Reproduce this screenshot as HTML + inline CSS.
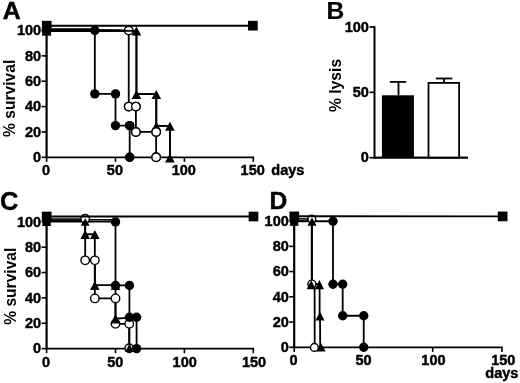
<!DOCTYPE html>
<html lang="en"><head><meta charset="utf-8"><title>Figure</title>
<style>
html,body{margin:0;padding:0;background:#fff;}
svg{display:block;filter:blur(0.35px);}
svg text{font-family:'Liberation Sans', Arial, sans-serif;font-weight:bold;fill:#000;}
</style></head>
<body>
<svg width="520" height="383" viewBox="0 0 520 383">
<rect width="520" height="383" fill="#fff"/>
<line x1="46.60" y1="158.20" x2="46.60" y2="29.70" stroke="#000" stroke-width="2.2"/>
<line x1="45.70" y1="157.30" x2="254.10" y2="157.30" stroke="#000" stroke-width="1.8"/>
<line x1="41.60" y1="157.30" x2="46.60" y2="157.30" stroke="#000" stroke-width="1.6"/>
<text x="41.20" y="162.00" font-size="14.5" text-anchor="end" stroke="#000" stroke-width="0.45">0</text>
<line x1="41.60" y1="131.94" x2="46.60" y2="131.94" stroke="#000" stroke-width="1.6"/>
<text x="41.20" y="136.64" font-size="14.5" text-anchor="end" stroke="#000" stroke-width="0.45">20</text>
<line x1="41.60" y1="106.58" x2="46.60" y2="106.58" stroke="#000" stroke-width="1.6"/>
<text x="41.20" y="111.28" font-size="14.5" text-anchor="end" stroke="#000" stroke-width="0.45">40</text>
<line x1="41.60" y1="81.22" x2="46.60" y2="81.22" stroke="#000" stroke-width="1.6"/>
<text x="41.20" y="85.92" font-size="14.5" text-anchor="end" stroke="#000" stroke-width="0.45">60</text>
<line x1="41.60" y1="55.86" x2="46.60" y2="55.86" stroke="#000" stroke-width="1.6"/>
<text x="41.20" y="60.56" font-size="14.5" text-anchor="end" stroke="#000" stroke-width="0.45">80</text>
<line x1="41.60" y1="30.50" x2="46.60" y2="30.50" stroke="#000" stroke-width="1.6"/>
<text x="41.20" y="35.20" font-size="14.5" text-anchor="end" stroke="#000" stroke-width="0.45">100</text>
<line x1="46.60" y1="157.30" x2="46.60" y2="161.90" stroke="#000" stroke-width="1.6"/>
<text x="46.00" y="175.30" font-size="14.5" text-anchor="middle" stroke="#000" stroke-width="0.45">0</text>
<line x1="115.50" y1="157.30" x2="115.50" y2="161.90" stroke="#000" stroke-width="1.6"/>
<text x="114.90" y="175.30" font-size="14.5" text-anchor="middle" stroke="#000" stroke-width="0.45">50</text>
<line x1="184.40" y1="157.30" x2="184.40" y2="161.90" stroke="#000" stroke-width="1.6"/>
<text x="183.80" y="175.30" font-size="14.5" text-anchor="middle" stroke="#000" stroke-width="0.45">100</text>
<line x1="253.30" y1="157.30" x2="253.30" y2="161.90" stroke="#000" stroke-width="1.6"/>
<text x="252.70" y="175.30" font-size="14.5" text-anchor="middle" stroke="#000" stroke-width="0.45">150</text>
<text transform="translate(14.70,98.30) rotate(-90)" font-size="15.6" text-anchor="middle">% survival</text>
<text x="271.30" y="175.40" font-size="14.5" text-anchor="start" stroke="#000" stroke-width="0.45">days</text>
<text x="2.70" y="18.60" font-size="24.8" text-anchor="start" stroke="#000" stroke-width="0.5">A</text>
<polyline points="46.60,30.50 128.73,30.50 128.73,106.58 135.89,106.58 135.89,131.94 156.15,131.94 156.15,157.30" fill="none" stroke="#000" stroke-width="1.8" stroke-linejoin="miter"/>
<polyline points="46.60,30.50 94.83,30.50 94.83,93.90 115.50,93.90 115.50,125.60 129.69,125.60 129.69,157.30" fill="none" stroke="#000" stroke-width="1.8" stroke-linejoin="miter"/>
<polyline points="46.60,30.80 136.45,30.80 136.45,94.20 156.29,94.20 156.29,125.90 169.93,125.90 169.93,157.60" fill="none" stroke="#000" stroke-width="1.8" stroke-linejoin="miter"/>
<line x1="46.60" y1="29.20" x2="94.83" y2="29.20" stroke="#000" stroke-width="1.8"/>
<line x1="46.60" y1="30.80" x2="94.83" y2="31.10" stroke="#000" stroke-width="1.8"/>
<line x1="94.83" y1="30.00" x2="120.73" y2="30.30" stroke="#000" stroke-width="1.8"/>
<circle cx="46.60" cy="30.50" r="4.25" fill="#fff" stroke="#000" stroke-width="1.4"/>
<circle cx="128.73" cy="30.50" r="4.25" fill="#fff" stroke="#000" stroke-width="1.4"/>
<circle cx="128.73" cy="106.58" r="4.25" fill="#fff" stroke="#000" stroke-width="1.4"/>
<circle cx="135.89" cy="106.58" r="4.25" fill="#fff" stroke="#000" stroke-width="1.4"/>
<circle cx="135.89" cy="131.94" r="4.25" fill="#fff" stroke="#000" stroke-width="1.4"/>
<circle cx="156.15" cy="131.94" r="4.25" fill="#fff" stroke="#000" stroke-width="1.4"/>
<circle cx="156.15" cy="157.30" r="4.25" fill="#fff" stroke="#000" stroke-width="1.4"/>
<circle cx="46.60" cy="30.50" r="4.7" fill="#000"/>
<circle cx="94.83" cy="30.50" r="4.7" fill="#000"/>
<circle cx="94.83" cy="93.90" r="4.7" fill="#000"/>
<circle cx="115.50" cy="93.90" r="4.7" fill="#000"/>
<circle cx="115.50" cy="125.60" r="4.7" fill="#000"/>
<circle cx="129.69" cy="125.60" r="4.7" fill="#000"/>
<circle cx="129.69" cy="157.30" r="4.7" fill="#000"/>
<polyline points="46.60,30.80 136.45,30.80 136.45,94.20 156.29,94.20 156.29,125.90 169.93,125.90 169.93,157.60" fill="none" stroke="#000" stroke-width="1.8" stroke-linejoin="miter"/>
<polygon points="46.60,26.60 51.40,35.60 41.80,35.60" fill="#000"/>
<polygon points="136.45,26.60 141.25,35.60 131.65,35.60" fill="#000"/>
<polygon points="136.45,90.00 141.25,99.00 131.65,99.00" fill="#000"/>
<polygon points="156.29,90.00 161.09,99.00 151.49,99.00" fill="#000"/>
<polygon points="156.29,121.70 161.09,130.70 151.49,130.70" fill="#000"/>
<polygon points="169.93,121.70 174.73,130.70 165.13,130.70" fill="#000"/>
<polygon points="169.93,153.40 174.73,162.40 165.13,162.40" fill="#000"/>
<circle cx="128.73" cy="106.58" r="4.25" fill="#fff" stroke="#000" stroke-width="1.4"/>
<circle cx="135.89" cy="106.58" r="4.25" fill="#fff" stroke="#000" stroke-width="1.4"/>
<circle cx="135.89" cy="131.94" r="4.25" fill="#fff" stroke="#000" stroke-width="1.4"/>
<circle cx="156.15" cy="131.94" r="4.25" fill="#fff" stroke="#000" stroke-width="1.4"/>
<circle cx="156.15" cy="157.30" r="4.25" fill="#fff" stroke="#000" stroke-width="1.4"/>
<circle cx="129.69" cy="157.30" r="4.7" fill="#000"/>
<circle cx="129.69" cy="125.60" r="4.7" fill="#000"/>
<circle cx="46.60" cy="31.20" r="4.4" fill="#000"/>
<polygon points="46.60,26.30 51.40,35.30 41.80,35.30" fill="#000"/>
<line x1="46.60" y1="25.70" x2="253.30" y2="25.70" stroke="#000" stroke-width="1.9"/>
<rect x="41.85" y="20.85" width="9.7" height="9.7" fill="#000"/>
<rect x="248.05" y="20.85" width="9.7" height="9.7" fill="#000"/>
<line x1="46.60" y1="349.50" x2="46.60" y2="221.00" stroke="#000" stroke-width="2.2"/>
<line x1="45.70" y1="348.60" x2="254.10" y2="348.60" stroke="#000" stroke-width="1.8"/>
<line x1="41.60" y1="348.60" x2="46.60" y2="348.60" stroke="#000" stroke-width="1.6"/>
<text x="41.20" y="353.30" font-size="14.5" text-anchor="end" stroke="#000" stroke-width="0.45">0</text>
<line x1="41.60" y1="323.24" x2="46.60" y2="323.24" stroke="#000" stroke-width="1.6"/>
<text x="41.20" y="327.94" font-size="14.5" text-anchor="end" stroke="#000" stroke-width="0.45">20</text>
<line x1="41.60" y1="297.88" x2="46.60" y2="297.88" stroke="#000" stroke-width="1.6"/>
<text x="41.20" y="302.58" font-size="14.5" text-anchor="end" stroke="#000" stroke-width="0.45">40</text>
<line x1="41.60" y1="272.52" x2="46.60" y2="272.52" stroke="#000" stroke-width="1.6"/>
<text x="41.20" y="277.22" font-size="14.5" text-anchor="end" stroke="#000" stroke-width="0.45">60</text>
<line x1="41.60" y1="247.16" x2="46.60" y2="247.16" stroke="#000" stroke-width="1.6"/>
<text x="41.20" y="251.86" font-size="14.5" text-anchor="end" stroke="#000" stroke-width="0.45">80</text>
<line x1="41.60" y1="221.80" x2="46.60" y2="221.80" stroke="#000" stroke-width="1.6"/>
<text x="41.20" y="226.50" font-size="14.5" text-anchor="end" stroke="#000" stroke-width="0.45">100</text>
<line x1="46.60" y1="348.60" x2="46.60" y2="353.20" stroke="#000" stroke-width="1.6"/>
<text x="46.00" y="366.50" font-size="14.5" text-anchor="middle" stroke="#000" stroke-width="0.45">0</text>
<line x1="115.50" y1="348.60" x2="115.50" y2="353.20" stroke="#000" stroke-width="1.6"/>
<text x="115.33" y="366.50" font-size="14.5" text-anchor="middle" stroke="#000" stroke-width="0.45">50</text>
<line x1="184.40" y1="348.60" x2="184.40" y2="353.20" stroke="#000" stroke-width="1.6"/>
<text x="184.67" y="366.50" font-size="14.5" text-anchor="middle" stroke="#000" stroke-width="0.45">100</text>
<line x1="253.30" y1="348.60" x2="253.30" y2="353.20" stroke="#000" stroke-width="1.6"/>
<text x="254.00" y="366.50" font-size="14.5" text-anchor="middle" stroke="#000" stroke-width="0.45">150</text>
<text transform="translate(15.60,286.20) rotate(-90)" font-size="15.6" text-anchor="middle">% survival</text>
<text x="0.00" y="210.20" font-size="25.4" text-anchor="start" stroke="#000" stroke-width="0.4">C</text>
<line x1="46.60" y1="219.00" x2="85.18" y2="219.00" stroke="#000" stroke-width="1.7"/>
<line x1="46.60" y1="220.40" x2="85.18" y2="220.40" stroke="#000" stroke-width="1.7"/>
<line x1="46.60" y1="221.70" x2="115.50" y2="221.70" stroke="#000" stroke-width="1.7"/>
<line x1="85.18" y1="219.80" x2="115.50" y2="219.80" stroke="#000" stroke-width="1.5"/>
<polyline points="85.18,220.00 85.18,260.35 94.83,260.35 94.83,298.39 115.50,298.39 115.50,323.87 129.28,323.87 129.28,348.60" fill="none" stroke="#000" stroke-width="1.8" stroke-linejoin="miter"/>
<polyline points="85.18,221.60 85.18,234.23 94.83,234.23 94.83,285.20 115.50,285.20 115.50,318.68 129.28,317.66 129.28,348.60" fill="none" stroke="#000" stroke-width="1.8" stroke-linejoin="miter"/>
<polyline points="115.50,221.90 115.50,285.45 129.42,285.45 129.42,317.28 136.58,317.28 136.58,348.60" fill="none" stroke="#000" stroke-width="1.8" stroke-linejoin="miter"/>
<circle cx="85.18" cy="218.80" r="4.25" fill="#fff" stroke="#000" stroke-width="1.4"/>
<polygon points="85.18,218.20 89.68,225.80 80.68,225.80" fill="#000"/>
<polygon points="85.18,229.93 89.98,238.93 80.38,238.93" fill="#000"/>
<polygon points="94.83,229.93 99.63,238.93 90.03,238.93" fill="#000"/>
<polygon points="94.83,280.90 99.63,289.90 90.03,289.90" fill="#000"/>
<polygon points="115.50,280.90 120.30,289.90 110.70,289.90" fill="#000"/>
<polygon points="115.50,314.38 120.30,323.38 110.70,323.38" fill="#000"/>
<circle cx="85.18" cy="260.35" r="4.25" fill="#fff" stroke="#000" stroke-width="1.4"/>
<circle cx="94.83" cy="260.35" r="4.25" fill="#fff" stroke="#000" stroke-width="1.4"/>
<circle cx="94.83" cy="298.39" r="4.25" fill="#fff" stroke="#000" stroke-width="1.4"/>
<circle cx="115.50" cy="298.39" r="4.25" fill="#fff" stroke="#000" stroke-width="1.4"/>
<circle cx="115.50" cy="323.87" r="4.25" fill="#fff" stroke="#000" stroke-width="1.4"/>
<circle cx="129.28" cy="323.87" r="4.25" fill="#fff" stroke="#000" stroke-width="1.4"/>
<circle cx="129.28" cy="348.30" r="4.25" fill="#fff" stroke="#000" stroke-width="1.4"/>
<polygon points="115.50,314.38 120.30,323.38 110.70,323.38" fill="#000"/>
<polygon points="129.48,343.60 133.78,352.00 125.18,352.00" fill="#000"/>
<circle cx="115.50" cy="221.90" r="4.7" fill="#000"/>
<circle cx="115.50" cy="285.45" r="4.7" fill="#000"/>
<circle cx="129.42" cy="285.45" r="4.7" fill="#000"/>
<circle cx="129.42" cy="317.28" r="4.7" fill="#000"/>
<circle cx="136.58" cy="317.28" r="4.7" fill="#000"/>
<circle cx="136.58" cy="348.60" r="4.7" fill="#000"/>
<circle cx="46.60" cy="221.80" r="4.4" fill="#000"/>
<polygon points="46.60,217.30 51.40,225.90 41.80,225.90" fill="#000"/>
<line x1="46.60" y1="216.50" x2="253.30" y2="216.50" stroke="#000" stroke-width="1.9"/>
<rect x="41.85" y="211.65" width="9.7" height="9.7" fill="#000"/>
<rect x="248.65" y="211.65" width="9.7" height="9.7" fill="#000"/>
<line x1="294.20" y1="348.20" x2="294.20" y2="220.30" stroke="#000" stroke-width="2.2"/>
<line x1="293.30" y1="347.30" x2="502.75" y2="347.30" stroke="#000" stroke-width="1.8"/>
<line x1="289.20" y1="347.30" x2="294.20" y2="347.30" stroke="#000" stroke-width="1.6"/>
<text x="288.80" y="352.00" font-size="14.5" text-anchor="end" stroke="#000" stroke-width="0.45">0</text>
<line x1="289.20" y1="322.06" x2="294.20" y2="322.06" stroke="#000" stroke-width="1.6"/>
<text x="288.80" y="326.76" font-size="14.5" text-anchor="end" stroke="#000" stroke-width="0.45">20</text>
<line x1="289.20" y1="296.82" x2="294.20" y2="296.82" stroke="#000" stroke-width="1.6"/>
<text x="288.80" y="301.52" font-size="14.5" text-anchor="end" stroke="#000" stroke-width="0.45">40</text>
<line x1="289.20" y1="271.58" x2="294.20" y2="271.58" stroke="#000" stroke-width="1.6"/>
<text x="288.80" y="276.28" font-size="14.5" text-anchor="end" stroke="#000" stroke-width="0.45">60</text>
<line x1="289.20" y1="246.34" x2="294.20" y2="246.34" stroke="#000" stroke-width="1.6"/>
<text x="288.80" y="251.04" font-size="14.5" text-anchor="end" stroke="#000" stroke-width="0.45">80</text>
<line x1="289.20" y1="221.10" x2="294.20" y2="221.10" stroke="#000" stroke-width="1.6"/>
<text x="288.80" y="225.80" font-size="14.5" text-anchor="end" stroke="#000" stroke-width="0.45">100</text>
<line x1="294.20" y1="347.30" x2="294.20" y2="351.90" stroke="#000" stroke-width="1.6"/>
<text x="293.60" y="365.20" font-size="14.5" text-anchor="middle" stroke="#000" stroke-width="0.45">0</text>
<line x1="363.45" y1="347.30" x2="363.45" y2="351.90" stroke="#000" stroke-width="1.6"/>
<text x="363.52" y="365.20" font-size="14.5" text-anchor="middle" stroke="#000" stroke-width="0.45">50</text>
<line x1="432.70" y1="347.30" x2="432.70" y2="351.90" stroke="#000" stroke-width="1.6"/>
<text x="433.43" y="365.20" font-size="14.5" text-anchor="middle" stroke="#000" stroke-width="0.45">100</text>
<line x1="501.95" y1="347.30" x2="501.95" y2="351.90" stroke="#000" stroke-width="1.6"/>
<text x="503.35" y="365.20" font-size="14.5" text-anchor="middle" stroke="#000" stroke-width="0.45">150</text>
<text x="485.30" y="377.60" font-size="14.5" text-anchor="start" stroke="#000" stroke-width="0.45">days</text>
<text x="269.60" y="209.20" font-size="24.6" text-anchor="start" stroke="#000" stroke-width="0.4">D</text>
<line x1="294.20" y1="218.90" x2="311.65" y2="218.90" stroke="#000" stroke-width="1.5"/>
<line x1="294.20" y1="221.30" x2="332.98" y2="221.30" stroke="#000" stroke-width="1.9"/>
<line x1="294.20" y1="221.00" x2="311.65" y2="221.00" stroke="#000" stroke-width="1.6"/>
<polyline points="311.70,221.20 311.70,284.20 319.60,284.20 319.60,315.75 320.00,315.75 320.20,347.30" fill="none" stroke="#000" stroke-width="1.8" stroke-linejoin="miter"/>
<polyline points="312.00,219.50 312.00,284.20 314.60,284.20 314.70,347.30" fill="none" stroke="#000" stroke-width="1.8" stroke-linejoin="miter"/>
<polyline points="332.98,221.30 332.98,284.20 342.68,284.20 342.68,315.75 363.73,315.75 363.73,347.30" fill="none" stroke="#000" stroke-width="1.8" stroke-linejoin="miter"/>
<circle cx="311.80" cy="219.00" r="3.9" fill="#fff" stroke="#000" stroke-width="1.4"/>
<polygon points="312.00,217.50 316.60,225.70 307.40,225.70" fill="#000"/>
<circle cx="311.90" cy="284.10" r="4.0" fill="#fff" stroke="#000" stroke-width="1.4"/>
<polygon points="311.20,280.20 315.80,289.20 306.60,289.20" fill="#000"/>
<polygon points="319.40,280.10 324.00,289.30 314.80,289.30" fill="#000"/>
<polygon points="320.00,311.80 324.60,320.60 315.40,320.60" fill="#000"/>
<polygon points="321.00,343.10 325.60,351.50 316.40,351.50" fill="#000"/>
<circle cx="314.40" cy="347.40" r="3.9" fill="#fff" stroke="#000" stroke-width="1.4"/>
<circle cx="332.98" cy="221.30" r="4.7" fill="#000"/>
<circle cx="332.98" cy="284.20" r="4.7" fill="#000"/>
<circle cx="342.68" cy="284.20" r="4.7" fill="#000"/>
<circle cx="342.68" cy="315.75" r="4.7" fill="#000"/>
<circle cx="363.73" cy="315.75" r="4.7" fill="#000"/>
<circle cx="363.73" cy="347.30" r="4.7" fill="#000"/>
<circle cx="294.20" cy="221.60" r="4.4" fill="#000"/>
<polygon points="294.20,217.10 299.00,225.70 289.40,225.70" fill="#000"/>
<line x1="294.20" y1="216.20" x2="501.95" y2="216.40" stroke="#000" stroke-width="1.9"/>
<rect x="289.45" y="211.55" width="9.7" height="9.7" fill="#000"/>
<rect x="497.80" y="211.55" width="9.7" height="9.7" fill="#000"/>
<line x1="374.50" y1="158.60" x2="374.50" y2="26.15" stroke="#000" stroke-width="2.0"/>
<line x1="373.60" y1="157.70" x2="468.00" y2="157.70" stroke="#000" stroke-width="1.8"/>
<line x1="369.50" y1="157.70" x2="374.50" y2="157.70" stroke="#000" stroke-width="1.7"/>
<text x="368.90" y="162.30" font-size="14.5" text-anchor="end" stroke="#000" stroke-width="0.45">0</text>
<line x1="369.50" y1="92.35" x2="374.50" y2="92.35" stroke="#000" stroke-width="1.7"/>
<text x="368.90" y="96.95" font-size="14.5" text-anchor="end" stroke="#000" stroke-width="0.45">50</text>
<line x1="369.50" y1="27.00" x2="374.50" y2="27.00" stroke="#000" stroke-width="1.7"/>
<text x="368.90" y="31.60" font-size="14.5" text-anchor="end" stroke="#000" stroke-width="0.45">100</text>
<text transform="translate(340.6,85.5) rotate(-90)" font-size="15.7" text-anchor="middle">% lysis</text>
<text x="326.60" y="18.60" font-size="24.6" text-anchor="start" stroke="#000" stroke-width="0.2">B</text>
<rect x="381.9" y="95.3" width="32.0" height="62.40" fill="#000"/>
<line x1="398.50" y1="95.50" x2="398.50" y2="81.90" stroke="#000" stroke-width="1.8"/>
<line x1="389.80" y1="81.90" x2="406.20" y2="81.90" stroke="#000" stroke-width="1.8"/>
<line x1="444.00" y1="82.50" x2="444.00" y2="78.50" stroke="#000" stroke-width="1.8"/>
<line x1="435.80" y1="78.50" x2="452.30" y2="78.50" stroke="#000" stroke-width="1.8"/>
<rect x="428.5" y="82.9" width="30.6" height="74.80" fill="#fff" stroke="#000" stroke-width="1.8"/>
<line x1="374.50" y1="157.70" x2="468.00" y2="157.70" stroke="#000" stroke-width="1.8"/>
</svg>
</body></html>
